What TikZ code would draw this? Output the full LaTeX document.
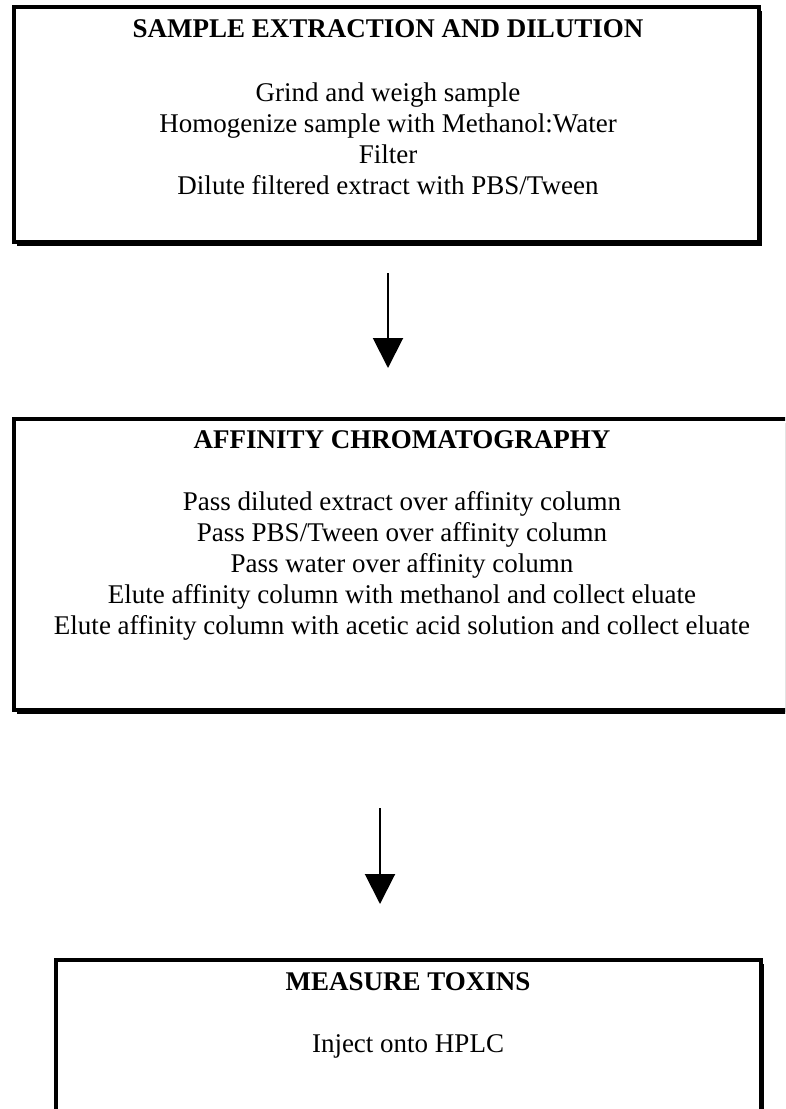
\documentclass[tikz,border=0pt]{standalone}
\usepackage{fontspec}
\setmainfont{Liberation Serif}
\usetikzlibrary{arrows.meta,shadows}
\begin{document}
\begin{tikzpicture}[x=1pt,y=-1pt,
  stepbox/.style={draw=black, line width=4pt, fill=white, inner sep=0pt, outer sep=0pt,
    anchor=north west, rectangle,
    drop shadow={fill=black, opacity=1, shadow xshift=3pt, shadow yshift=-4pt}},
  boxtitle/.style={anchor=base, inner sep=0pt, font=\fontsize{27}{31}\selectfont\bfseries},
  boxline/.style={anchor=base, inner sep=0pt, font=\fontsize{27}{31}\selectfont},
  flow/.style={line width=2pt, -{Triangle[width=30pt,length=30pt]}}]
\useasboundingbox (0,0) rectangle (785,1109);
\clip (0,0) rectangle (785,1109);
% boxes
\node[stepbox, minimum width=745pt, minimum height=235pt] (b1) at (14,7) {};
\node[stepbox, minimum width=800pt, minimum height=291pt] (b2) at (14,419) {};
\node[stepbox, minimum width=705pt, minimum height=200pt] (b3) at (56,960) {};
% box 1 text
\node[boxtitle] (t1) at (388,37) {SAMPLE EXTRACTION AND DILUTION};
\node[boxline] (l11) at (388,101) {Grind and weigh sample};
\node[boxline] (l12) at (388,132) {Homogenize sample with Methanol:Water};
\node[boxline] (l13) at (388,163) {Filter};
\node[boxline] (l14) at (388,194) {Dilute filtered extract with PBS/Tween};
% box 2 text
\node[boxtitle] (t2) at (402,448) {AFFINITY CHROMATOGRAPHY};
\node[boxline] (l21) at (402,510) {Pass diluted extract over affinity column};
\node[boxline] (l22) at (402,541) {Pass PBS/Tween over affinity column};
\node[boxline] (l23) at (402,572) {Pass water over affinity column};
\node[boxline] (l24) at (402,603) {Elute affinity column with methanol and collect eluate};
\node[boxline] (l25) at (402,634) {Elute affinity column with acetic acid solution and collect eluate};
% box 3 text
\node[boxtitle] (t3) at (408,990) {MEASURE TOXINS};
\node[boxline] (l31) at (408,1052) {Inject onto HPLC};
% arrows
\coordinate (a1s) at (388,273);
\coordinate (a1e) at (388,368);
\coordinate (a2s) at (380,808);
\coordinate (a2e) at (380,904);
\draw[flow] (a1s) -- (a1e);
\draw[flow] (a2s) -- (a2e);
\end{tikzpicture}
\end{document}
